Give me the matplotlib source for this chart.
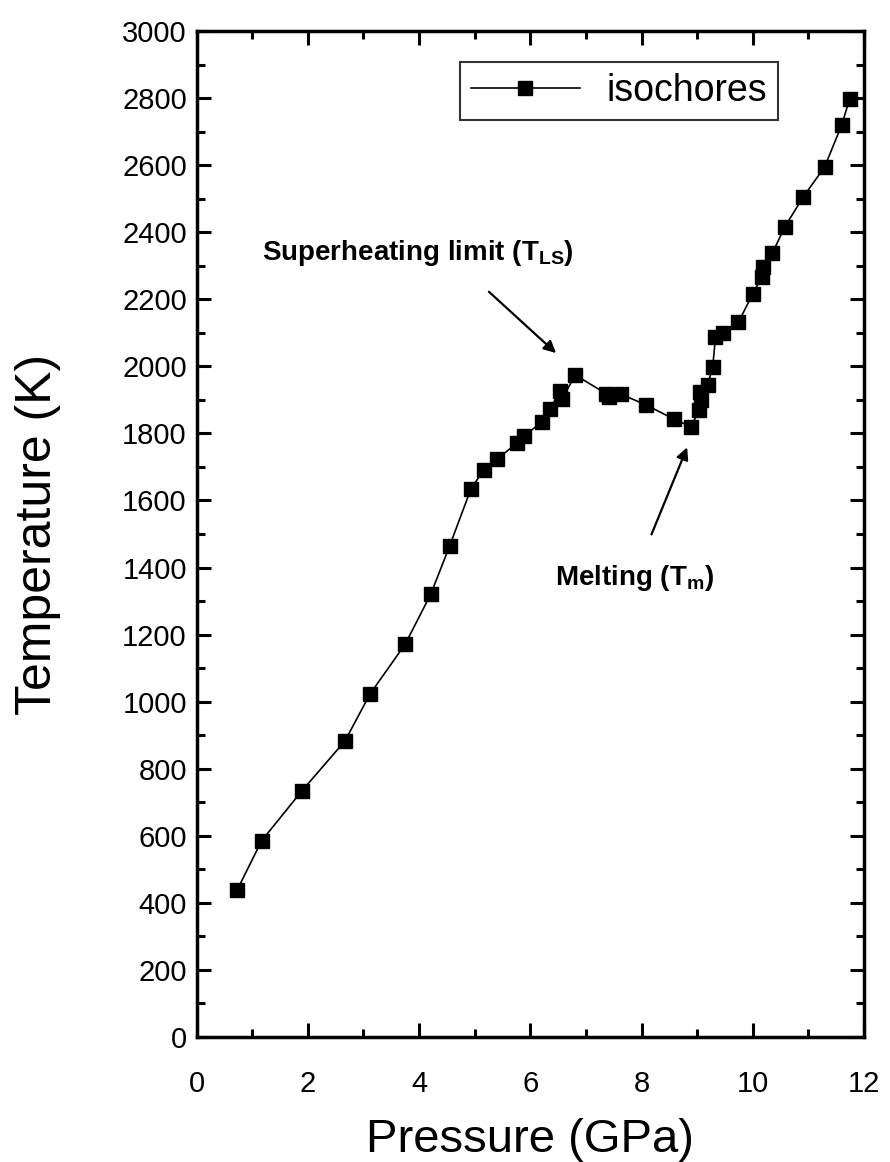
import matplotlib
matplotlib.use("Agg")
import matplotlib.pyplot as plt
from matplotlib.ticker import MultipleLocator

plt.rcParams['font.family'] = ['Liberation Sans', 'DejaVu Sans']
plt.rcParams['mathtext.fontset'] = 'custom'
plt.rcParams['mathtext.rm'] = 'Liberation Sans'
plt.rcParams['mathtext.bf'] = 'Liberation Sans:bold'

# Isochore data: pressure (GPa) and temperature (K)
pressure = [0.73, 1.17, 1.90, 2.67, 3.12, 3.75, 4.21, 4.55, 4.93, 5.16, 5.40,
            5.76, 5.89, 6.21, 6.35, 6.53, 6.57, 6.81, 7.37, 7.42, 7.63, 8.08,
            8.59, 8.89, 9.04, 9.07, 9.06, 9.19, 9.28, 9.33, 9.46, 9.74, 10.00,
            10.16, 10.18, 10.35, 10.58, 10.91, 11.29, 11.60, 11.74]
temperature = [438, 585, 735, 883, 1023, 1171, 1320, 1464, 1633, 1691, 1723,
               1771, 1792, 1835, 1872, 1925, 1902, 1974, 1918, 1910, 1917, 1885,
               1842, 1820, 1870, 1900, 1922, 1945, 1999, 2087, 2100, 2131, 2216,
               2266, 2295, 2337, 2417, 2506, 2594, 2720, 2797]

x_ticks = [0, 2, 4, 6, 8, 10, 12]
y_ticks = list(range(0, 3001, 200))

fig = plt.figure(figsize=(8.9, 11.62), dpi=100)
ax = fig.add_axes([0.2208, 0.1076, 0.7500, 0.8657])

ax.plot(pressure, temperature, color='black', lw=1.2, marker='s',
        markersize=9.5, markerfacecolor='black', markeredgecolor='black',
        label='isochores')

ax.set_xlim(0, 12)
ax.set_ylim(0, 3000)
ax.set_xticks(x_ticks)
ax.set_yticks(y_ticks)
ax.xaxis.set_minor_locator(MultipleLocator(1))
ax.yaxis.set_minor_locator(MultipleLocator(100))
ax.tick_params(which='both', direction='in', top=True, right=True,
               width=2.2, labelsize=21)
ax.tick_params(which='major', length=10)
ax.tick_params(which='minor', length=6)
ax.tick_params(axis='x', which='both', pad=24)
ax.tick_params(axis='y', which='both', pad=7)
for s in ax.spines.values():
    s.set_linewidth(2.5)

ax.set_xlabel('Pressure (GPa)', fontsize=34, labelpad=14)
ax.set_ylabel('Temperature (K)', fontsize=36, labelpad=44)

leg = ax.legend(loc='upper left', bbox_to_anchor=(0.3945, 0.9695), fontsize=27,
                frameon=True, fancybox=False, edgecolor='black',
                handlelength=2.9, borderpad=0.3, handletextpad=0.7,
                borderaxespad=0.0)
leg.get_frame().set_linewidth(1.5)

ax.annotate('', xy=(6.50, 2034), xytext=(5.22, 2228),
            arrowprops=dict(arrowstyle='-|>', color='black', lw=1.6,
                            mutation_scale=18))
ax.text(1.18, 2338, r'Superheating limit (T$_{\mathbf{LS}}$)', fontsize=20,
        fontweight='bold', va='center', ha='left')

ax.annotate('', xy=(8.84, 1766), xytext=(8.16, 1491),
            arrowprops=dict(arrowstyle='-|>', color='black', lw=1.6,
                            mutation_scale=18))
ax.text(6.45, 1369, r'Melting (T$_{\mathbf{m}}$)', fontsize=20,
        fontweight='bold', va='center', ha='left')

fig.savefig('out.png', dpi=100)
